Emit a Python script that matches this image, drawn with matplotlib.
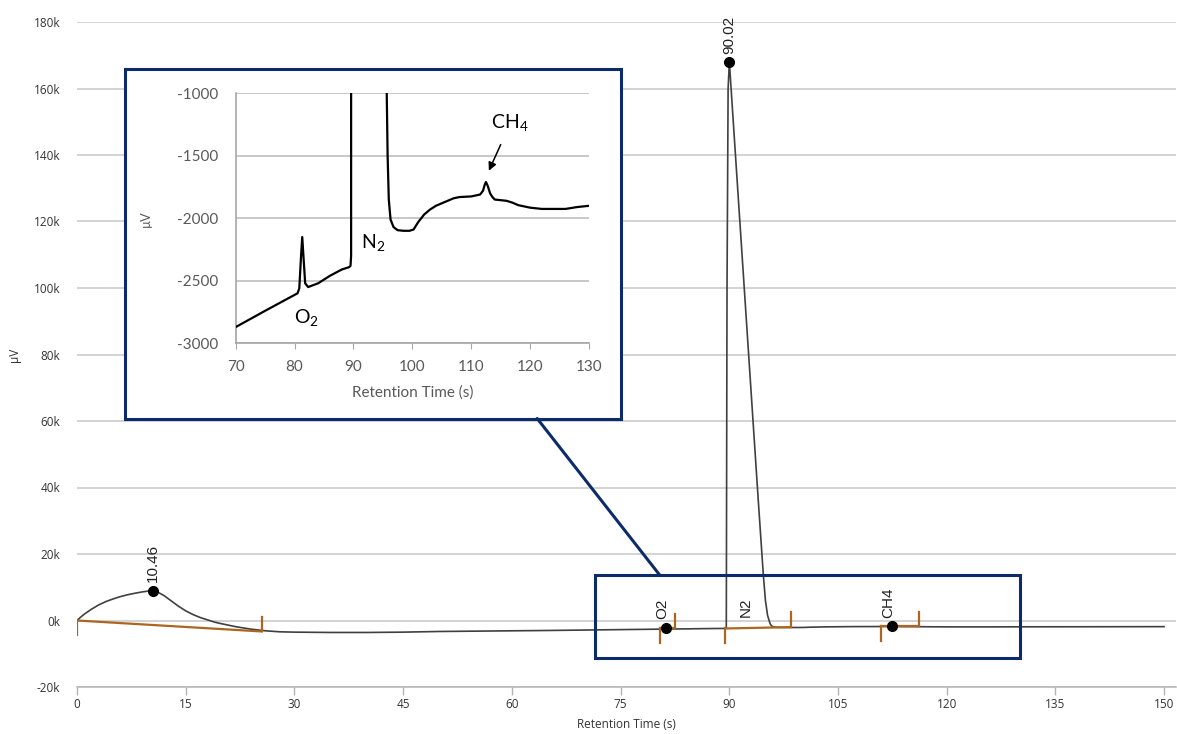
import matplotlib.pyplot as plt
from matplotlib.patches import Rectangle, ConnectionPatch

# -------------------------
# Chromatogram signal (retention time in s, detector signal in µV)
# -------------------------
time_s = [
    0, 0.5, 1, 2, 3, 4, 5, 6, 7, 8, 9, 10, 10.46, 11, 12, 13, 14, 15, 16, 17,
    18, 19, 20, 22, 24, 26, 28, 30, 35, 40, 45, 50, 55, 60, 65, 70, 75, 80.5,
    80.8, 81.1, 81.3, 81.5, 81.8, 82.3, 84, 86, 88, 89.3, 89.5, 89.6, 89.7,
    89.85, 90.02, 91, 92, 93, 94, 94.7, 95.0, 95.3, 95.65, 95.8, 96.0, 96.3,
    96.8, 97.5, 98.5, 99.5, 100.2, 101, 102, 103, 104, 105, 106, 107, 108,
    110, 111.5, 112.0, 112.3, 112.5, 112.8, 113.2, 113.6, 114, 116, 117, 118,
    120, 122, 126, 128, 130, 140, 150,
]
signal_uv = [
    0, 1000, 1900, 3400, 4700, 5700, 6500, 7200, 7750, 8200, 8600, 8900,
    9000, 8700, 7500, 5900, 4300, 2900, 1800, 900, 200, -500, -1000, -1900,
    -2600, -3100, -3400, -3500, -3600, -3600, -3500, -3300, -3200, -3100,
    -3000, -2870, -2740, -2600, -2560, -2300, -2150, -2300, -2520, -2550,
    -2520, -2460, -2410, -2390, -2380, -2300, 100000, 160000, 168000,
    135500, 102500, 69500, 36500, 14000, 6000, 1500, -1000, -1500, -1850,
    -2010, -2070, -2095, -2100, -2100, -2090, -2030, -1970, -1930, -1900,
    -1880, -1860, -1840, -1830, -1825, -1810, -1780, -1730, -1710, -1740,
    -1800, -1830, -1850, -1860, -1875, -1895, -1915, -1925, -1925, -1910,
    -1900, -1880, -1850,
]

# -------------------------
# Integrated peaks
# -------------------------
peak_labels = ["10.46", "O2", "90.02", "CH4"]
peak_times = [10.46, 81.3, 90.02, 112.5]
peak_apex = [9000, -2150, 168000, -1710]

window_start = [0.0, 80.4, 89.45, 110.9]
window_end = [25.5, 82.5, 98.5, 116.2]
base_start = [0, -2400, -2400, -1800]
base_end = [-3300, -2400, -2000, -1800]

y_ticks = list(range(-20000, 180001, 20000))
x_ticks = list(range(0, 151, 15))
inset_x_ticks = list(range(70, 131, 10))
inset_y_ticks = list(range(-3000, -999, 500))

W, H = 1177, 734
navy = "#0c2b6b"
brown = "#ad661f"

plt.rcParams["axes.unicode_minus"] = False
plt.rcParams["mathtext.fontset"] = "custom"
plt.rcParams["mathtext.rm"] = "Lato"
plt.rcParams["mathtext.default"] = "rm"

fig = plt.figure(figsize=(W / 100, H / 100), dpi=100)

# -------------------------
# Main chromatogram
# -------------------------
ax = fig.add_axes([77 / W, 1 - 687 / H, (1176 - 77) / W, (687 - 22) / H])
ax.set_xlim(0, 150 * 1099 / 1087)
ax.set_ylim(-20000, 180000)

ax.plot(time_s, signal_uv, color="#404040", lw=1.2, zorder=3)

# baselines and integration ticks
tick_len = 4500
for xs, xe, ys, ye in zip(window_start, window_end, base_start, base_end):
    ax.plot([xs, xe], [ys, ye], color=brown, lw=1.6, zorder=4)
    ax.plot([xs, xs], [ys, ys - tick_len], color=brown, lw=1.6, zorder=4)
    ax.plot([xe, xe], [ye, ye + tick_len], color=brown, lw=1.6, zorder=4)

ax.plot(peak_times, peak_apex, "o", color="black", ms=7, zorder=5)
for label, t, v in zip(peak_labels, peak_times, peak_apex):
    dx = -3 if label in ("O2", "CH4") else 0
    ax.annotate(label, (t, v), xytext=(dx, 6), textcoords="offset points",
                rotation=90, ha="center", va="bottom", fontsize=11,
                family="Liberation Sans", color="#222222", zorder=6)
ax.annotate("N2", (92.3, -2200), xytext=(0, 8), textcoords="offset points",
            rotation=90, ha="center", va="bottom", fontsize=11,
            family="Liberation Sans", color="#222222", zorder=6)

ax.set_yticks(y_ticks)
ax.set_yticklabels([f"{v // 1000}k" for v in y_ticks])
ax.set_xticks(x_ticks)
ax.tick_params(axis="y", length=0, pad=12, labelsize=8.5, labelcolor="#333333")
ax.tick_params(axis="x", length=6, width=1, color="#b4b4b4", pad=2,
               labelsize=8.5, labelcolor="#333333")
for lab in ax.get_xticklabels() + ax.get_yticklabels():
    lab.set_family("Open Sans")
ax.grid(axis="y", color="#c8c8c8", lw=1.1)
ax.set_axisbelow(True)
for side in ("top", "right", "left"):
    ax.spines[side].set_visible(False)
ax.spines["bottom"].set_color("#b4b4b4")
ax.spines["bottom"].set_linewidth(1.1)
ax.set_xlabel("Retention Time (s)", family="Open Sans", fontsize=8.5,
              color="#333333", labelpad=5)
ax.set_ylabel("µV", family="Open Sans", fontsize=8.5, color="#333333")
ax.yaxis.set_label_coords(-56 / 1099, 0.5)

# zoom window on the main chart
ax.add_patch(Rectangle((71.5, -11200), 130.1 - 71.5, 13700 + 11200,
                       fill=False, edgecolor=navy, lw=2.2, zorder=7))

# -------------------------
# Zoomed panel
# -------------------------
panel = fig.add_axes([124.5 / W, 1 - 418.5 / H, 496 / W, 350 / H])
panel.set_facecolor("white")
panel.set_xticks([])
panel.set_yticks([])
for sp in panel.spines.values():
    sp.set_color(navy)
    sp.set_linewidth(2.2)

con = ConnectionPatch(xyA=(80.4, 13700), coordsA=ax.transData,
                      xyB=(0.832, 0), coordsB=panel.transAxes,
                      color=navy, lw=2.2, zorder=1)
fig.add_artist(con)

inset = fig.add_axes([235.7 / W, 1 - 343.3 / H, 353.3 / W, 250 / H])
inset.plot(time_s, signal_uv, color="black", lw=1.6, zorder=3)
inset.set_xlim(70, 130)
inset.set_ylim(-3000, -1000)
inset.set_xticks(inset_x_ticks)
inset.set_yticks(inset_y_ticks)
inset.grid(axis="y", color="#bfbfbf", lw=1.2)
inset.set_axisbelow(True)
inset.tick_params(axis="x", length=4, color="#a6a6a6", pad=8, labelsize=11,
                  labelcolor="#595959")
inset.tick_params(axis="y", length=0, pad=12.5, labelsize=11,
                  labelcolor="#595959")
for lab in inset.get_xticklabels() + inset.get_yticklabels():
    lab.set_family("Lato")
for side in ("top", "right"):
    inset.spines[side].set_visible(False)
for side in ("left", "bottom"):
    inset.spines[side].set_color("#a6a6a6")
    inset.spines[side].set_linewidth(1.2)
inset.set_xlabel("Retention Time (s)", family="Lato", fontsize=11,
                 color="#595959", labelpad=8)
inset.set_ylabel("µV", family="Lato", fontsize=9, color="#595959")
inset.yaxis.set_label_coords(-84 / 353.3, 0.5)

inset.text(82.1, -2790, "O$_2$", fontsize=14, family="Lato",
           ha="center", va="center")
inset.text(93.3, -2196, "N$_2$", fontsize=14, family="Lato",
           ha="center", va="center")
inset.text(116.6, -1230, "CH$_4$", fontsize=14, family="Lato",
           ha="center", va="center")
inset.annotate("", xy=(112.8, -1640), xytext=(115.2, -1390),
               arrowprops=dict(arrowstyle="-|>", color="black", lw=1.1,
                               mutation_scale=12))

fig.savefig("out.png", dpi=100)
